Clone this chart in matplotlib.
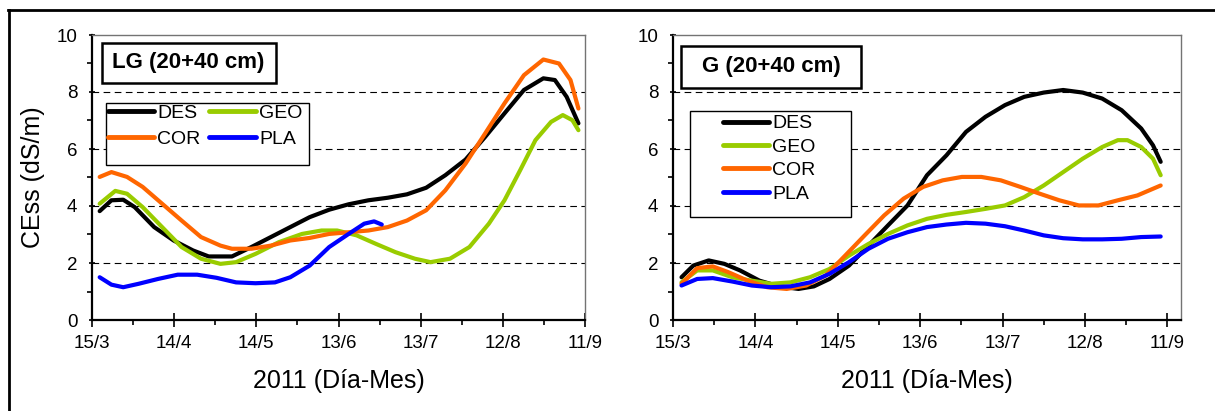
import matplotlib.pyplot as plt
from matplotlib.lines import Line2D
from matplotlib.patches import Rectangle
from matplotlib.ticker import MultipleLocator

plt.rcParams["font.family"] = ["Liberation Sans", "DejaVu Sans"]

# days counted from 15/3/2011
tick_days = [0, 30, 60, 90, 120, 150, 180]
tick_labels = ["15/3", "14/4", "14/5", "13/6", "13/7", "12/8", "11/9"]
names = ["DES", "GEO", "COR", "PLA"]
colors = {"DES": "#000000", "GEO": "#99CC00", "COR": "#FF6600", "PLA": "#0000FF"}

# ---- LG (20+40 cm)
lg_des_x = [2.8, 7.1, 11.4, 15.6, 22.7, 29.8, 36.9, 42.6, 51.1, 58.2, 65.3, 72.4, 79.5, 86.6,
            93.7, 100.9, 108, 115, 122, 129, 136.4, 143.5, 150.6, 157.7, 164.8, 169, 173.3, 177.6]
lg_des_y = [3.82, 4.2, 4.22, 3.96, 3.26, 2.79, 2.44, 2.23, 2.23, 2.56, 2.91, 3.26, 3.61, 3.87,
            4.06, 4.2, 4.29, 4.41, 4.64, 5.08, 5.63, 6.42, 7.25, 8.07, 8.48, 8.42, 7.83, 6.9]
lg_cor_x = [2.8, 7.1, 12.8, 18.5, 25.6, 32.7, 39.8, 46.9, 51.1, 58.2, 65.3, 72.4, 79.5, 86.6,
            93.7, 100.9, 108, 115, 122, 129, 136.4, 143.5, 150.6, 157.7, 164.8, 170.5, 174.7, 177.6]
lg_cor_y = [5.02, 5.19, 5.02, 4.67, 4.08, 3.49, 2.91, 2.61, 2.5, 2.5, 2.61, 2.79, 2.88, 3.02,
            3.08, 3.14, 3.26, 3.49, 3.85, 4.55, 5.49, 6.54, 7.6, 8.59, 9.14, 9.0, 8.42, 7.42]
lg_geo_x = [2.8, 8.5, 12.8, 18.5, 25.6, 32.7, 39.8, 46.9, 52.6, 59.7, 68.2, 76.7, 83.8, 89.5,
            96.6, 103.7, 110.8, 117.9, 123.6, 130.7, 137.8, 144.9, 150.6, 156.3, 161.9, 167.6,
            171.9, 175.4, 177.6]
lg_geo_y = [4.08, 4.53, 4.43, 3.96, 3.26, 2.56, 2.15, 1.97, 2.03, 2.32, 2.73, 3.02, 3.14, 3.14,
            2.97, 2.67, 2.38, 2.15, 2.03, 2.15, 2.56, 3.38, 4.2, 5.25, 6.31, 6.95, 7.19, 7.01, 6.66]
lg_pla_x = [2.8, 7.1, 11.4, 17, 24.1, 31.3, 38.4, 45.5, 52.6, 59.7, 66.8, 72.4, 79.5, 86.6,
            93.7, 99.4, 103, 105.8]
lg_pla_y = [1.5, 1.24, 1.15, 1.27, 1.44, 1.59, 1.59, 1.48, 1.32, 1.29, 1.32, 1.5, 1.91, 2.56,
            3.02, 3.38, 3.46, 3.35]

# ---- G (20+40 cm)
g_des_x = [3.1, 7.4, 13, 18.7, 24.4, 31.5, 38.6, 45.7, 51.3, 57, 64.1, 71.2, 78.3, 85.4, 92.5,
           99.6, 106.7, 113.8, 120.9, 127.9, 135, 142.1, 149.2, 156.3, 163.4, 170.5, 174.8, 177.6]
g_des_y = [1.5, 1.91, 2.09, 1.97, 1.74, 1.38, 1.18, 1.09, 1.18, 1.44, 1.91, 2.61, 3.32, 4.02,
           5.08, 5.78, 6.6, 7.13, 7.54, 7.83, 7.98, 8.07, 7.98, 7.77, 7.36, 6.72, 6.13, 5.55]
g_geo_x = [3.1, 8.8, 14.5, 21.6, 28.7, 35.7, 42.8, 49.9, 57, 64.1, 71.2, 78.3, 85.4, 92.5, 99.6,
           106.7, 113.8, 120.9, 127.9, 135, 142.1, 149.2, 156.3, 162, 165.5, 170.5, 174.8, 177.6]
g_geo_y = [1.32, 1.74, 1.74, 1.5, 1.38, 1.27, 1.32, 1.5, 1.79, 2.26, 2.67, 3.02, 3.32, 3.55,
           3.69, 3.79, 3.9, 4.02, 4.31, 4.72, 5.19, 5.66, 6.07, 6.31, 6.31, 6.07, 5.66, 5.08]
g_cor_x = [3.1, 8.8, 14.5, 20.1, 27.2, 34.3, 41.4, 48.5, 55.6, 62.7, 69.8, 76.9, 84, 91.1, 98.2,
           105.2, 112.3, 119.4, 126.5, 133.6, 140.7, 147.8, 154.9, 162, 169.1, 177.6]
g_cor_y = [1.27, 1.82, 1.88, 1.68, 1.38, 1.15, 1.09, 1.21, 1.56, 2.26, 2.97, 3.67, 4.26, 4.67,
           4.9, 5.02, 5.02, 4.9, 4.67, 4.43, 4.2, 4.02, 4.02, 4.2, 4.37, 4.72]
g_pla_x = [3.1, 8.8, 14.5, 21.6, 28.7, 35.7, 42.8, 49.9, 57, 64.1, 71.2, 78.3, 85.4, 92.5, 99.6,
           106.7, 113.8, 120.9, 127.9, 135, 142.1, 149.2, 156.3, 163.4, 170.5, 177.6]
g_pla_y = [1.21, 1.44, 1.47, 1.35, 1.21, 1.15, 1.18, 1.32, 1.62, 2.03, 2.5, 2.85, 3.08, 3.26,
           3.35, 3.41, 3.38, 3.29, 3.14, 2.97, 2.87, 2.83, 2.83, 2.85, 2.91, 2.93]

lg_series = {"DES": (lg_des_x, lg_des_y), "GEO": (lg_geo_x, lg_geo_y),
             "COR": (lg_cor_x, lg_cor_y), "PLA": (lg_pla_x, lg_pla_y)}
g_series = {"DES": (g_des_x, g_des_y), "GEO": (g_geo_x, g_geo_y),
            "COR": (g_cor_x, g_cor_y), "PLA": (g_pla_x, g_pla_y)}


def style_axes(ax, xmax):
    ax.set_xlim(0, xmax)
    ax.set_ylim(0, 10)
    ax.set_xticks(tick_days)
    ax.set_xticklabels(tick_labels)
    ax.xaxis.set_minor_locator(MultipleLocator(15))
    ax.set_yticks([0, 2, 4, 6, 8, 10])
    ax.yaxis.set_minor_locator(MultipleLocator(1))
    ax.tick_params(axis="x", which="major", direction="inout", length=9.5, width=1.2,
                   labelsize=13.5, pad=6)
    ax.tick_params(axis="x", which="minor", direction="out", length=3.6, width=1.2)
    ax.tick_params(axis="y", which="major", direction="inout", length=5, width=1.2,
                   labelsize=13.5, pad=8)
    ax.tick_params(axis="y", which="minor", direction="out", length=3.6, width=1.2)
    for s in ["left", "bottom"]:
        ax.spines[s].set_linewidth(1.6)
    for s in ["top", "right"]:
        ax.spines[s].set_linewidth(1)
        ax.spines[s].set_color("0.45")
    for y in [2, 4, 6, 8]:
        ax.axhline(y, color="black", lw=0.8, ls=(0, (6, 4)), zorder=1)
    ax.set_xlabel("2011 (Día-Mes)", fontsize=18, labelpad=12)


def draw_lines(ax, series):
    handles = {}
    for name in names:
        xs, ys = series[name]
        (h,) = ax.plot(xs, ys, color=colors[name], lw=3, solid_capstyle="round",
                       solid_joinstyle="round", zorder=3, label=name)
        handles[name] = h
    return handles


def box(ax, x0, y0, x1, y1, lw):
    ax.add_patch(Rectangle((x0, y0), x1 - x0, y1 - y0, transform=ax.transAxes,
                           facecolor="white", edgecolor="black", lw=lw, zorder=5))


fig = plt.figure(figsize=(12.15, 4.11), dpi=100)

# left panel
ax1 = fig.add_axes([92 / 1215, 91 / 411, 493 / 1215, 285 / 411])
style_axes(ax1, 180)
h1 = draw_lines(ax1, lg_series)
ax1.set_ylabel("CEss (dS/m)", fontsize=18, labelpad=8)
box(ax1, 0.0197, 0.8305, 0.3726, 0.973, 1.8)
ax1.text(0.196, 0.902, "LG (20+40 cm)", transform=ax1.transAxes, ha="center", va="center",
         fontsize=16, fontweight="bold", zorder=6)
box(ax1, 0.0278, 0.5439, 0.4408, 0.7625, 1)
leg1 = ax1.legend([h1["DES"], h1["COR"], h1["GEO"], h1["PLA"]], ["DES", "COR", "GEO", "PLA"],
                  ncol=2, loc="upper left", bbox_to_anchor=(0.032, 0.757), frameon=False,
                  fontsize=14, handlelength=2.4, handletextpad=0.15, columnspacing=0.45,
                  labelspacing=0.45, borderpad=0, borderaxespad=0)
leg1.set_zorder(6)
for line in leg1.get_lines():
    line.set_linewidth(3.5)

# right panel
ax2 = fig.add_axes([673 / 1215, 91 / 411, 508 / 1215, 285 / 411])
style_axes(ax2, 185)
h2 = draw_lines(ax2, g_series)
box(ax2, 0.0157, 0.813, 0.370, 0.9625, 1.8)
ax2.text(0.193, 0.888, "G (20+40 cm)", transform=ax2.transAxes, ha="center", va="center",
         fontsize=16, fontweight="bold", zorder=6)
box(ax2, 0.0335, 0.3614, 0.3504, 0.733, 1)
leg2 = ax2.legend([h2[n] for n in names], names, loc="upper left",
                  bbox_to_anchor=(0.098, 0.72), frameon=False, fontsize=14,
                  handlelength=2.4, handletextpad=0.15, labelspacing=0.3,
                  borderpad=0, borderaxespad=0)
leg2.set_zorder(6)
for line in leg2.get_lines():
    line.set_linewidth(3.5)

# outer frame
fig.add_artist(Line2D([8 / 1215, 1], [1 - 10 / 411, 1 - 10 / 411], transform=fig.transFigure,
                      color="black", lw=2))
fig.add_artist(Line2D([9 / 1215, 9 / 1215], [0, 1 - 10 / 411], transform=fig.transFigure,
                      color="black", lw=2))

fig.savefig("out.png", dpi=100)
